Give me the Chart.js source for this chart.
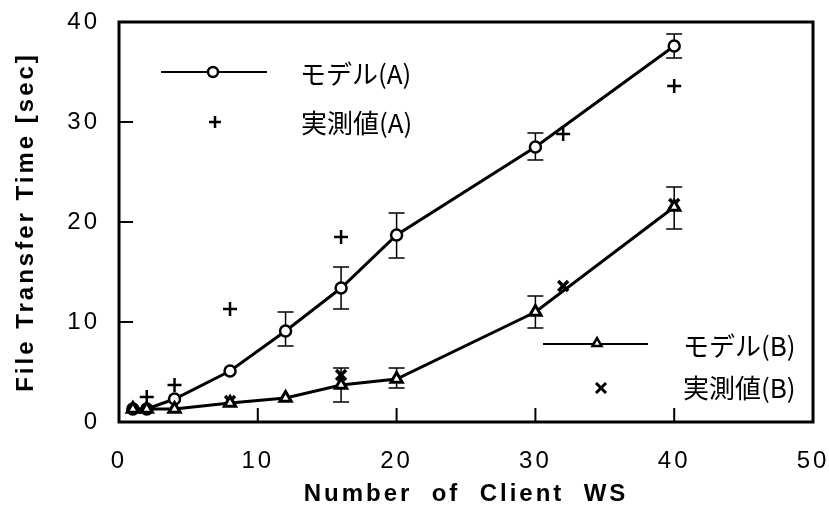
<!DOCTYPE html>
<html><head><meta charset="utf-8">
<script src="https://cdn.jsdelivr.net/npm/chart.js@4/dist/chart.umd.min.js"></script>
<style>html,body{margin:0;padding:0;background:#fff}#wrap{width:829px;height:507px;position:relative}</style>
</head><body><div id="wrap"><canvas id="c"></canvas></div>
<script>
// ---- data ----
const xModel = [1, 2, 4, 8, 12, 16, 20, 30, 40];
const modelA = [1.3, 1.3, 2.3, 5.1, 9.1, 13.4, 18.7, 27.5, 37.6];
const modelAHigh = [null, null, null, null, 11.0, 15.5, 20.9, 28.9, 38.8];
const modelALow  = [null, null, null, null, 7.6, 11.3, 16.4, 26.2, 36.4];
const modelB = [1.3, 1.3, 1.3, 1.9, 2.4, 3.7, 4.3, 11.0, 21.5];
const modelBHigh = [null, null, null, null, null, 5.4, 5.4, 12.6, 23.5];
const modelBLow  = [null, null, null, null, null, 2.0, 3.4, 9.4, 19.3];
const xMeasA = [2, 4, 8, 16, 32, 40];
const measA = [2.5, 3.7, 11.3, 18.5, 28.8, 33.6];
const xMeasB = [8, 16, 32, 40];
const measB = [2.1, 4.7, 13.6, 21.8];
const xTicks = [0, 10, 20, 30, 40, 50];
const yTicks = [0, 10, 20, 30, 40];
const labelModelA = 'モデル(A)';
const labelMeasA = '実測値(A)';
const labelModelB = 'モデル(B)';
const labelMeasB = '実測値(B)';
const xTitle = 'Number  of  Client  WS';
const yTitle = 'File Transfer Time [sec]';

const pts = (xs, ys) => xs.map((x, i) => ({x: x, y: ys[i]}));

const spacingPlugin = {
  id: 'spacing',
  beforeDraw(chart) { chart.ctx.letterSpacing = '3px'; },
  beforeDatasetsDraw(chart) { chart.ctx.letterSpacing = '0px'; }
};

const errorBarPlugin = {
  id: 'errbars',
  beforeDatasetsDraw(chart) {
    const ctx = chart.ctx, xs = chart.scales.x, ys = chart.scales.y;
    ctx.save();
    ctx.strokeStyle = '#000';
    ctx.lineWidth = 1.5;
    const draw = (xv, lo, hi) => {
      xv.forEach((x, i) => {
        if (lo[i] == null || hi[i] == null) return;
        const px = xs.getPixelForValue(x);
        const py1 = ys.getPixelForValue(lo[i]);
        const py2 = ys.getPixelForValue(hi[i]);
        ctx.beginPath();
        ctx.moveTo(px, py1); ctx.lineTo(px, py2);
        ctx.moveTo(px - 8, py1); ctx.lineTo(px + 8, py1);
        ctx.moveTo(px - 8, py2); ctx.lineTo(px + 8, py2);
        ctx.stroke();
      });
    };
    draw(xModel, modelALow, modelAHigh);
    draw(xModel, modelBLow, modelBHigh);
    ctx.restore();
  }
};

function marker(ctx, type, x, y, r) {
  ctx.save();
  ctx.beginPath();
  if (type === 'circle') {
    ctx.arc(x, y, r, 0, Math.PI * 2);
    ctx.fillStyle = '#fff'; ctx.fill(); ctx.stroke();
  } else if (type === 'triangle') {
    ctx.moveTo(x, y - r); ctx.lineTo(x + r * 0.9, y + r * 0.6); ctx.lineTo(x - r * 0.9, y + r * 0.6); ctx.closePath();
    ctx.fillStyle = '#fff'; ctx.fill(); ctx.stroke();
  } else if (type === 'plus') {
    ctx.moveTo(x - r, y); ctx.lineTo(x + r, y); ctx.moveTo(x, y - r); ctx.lineTo(x, y + r); ctx.stroke();
  } else if (type === 'x') {
    ctx.moveTo(x - r, y - r); ctx.lineTo(x + r, y + r); ctx.moveTo(x + r, y - r); ctx.lineTo(x - r, y + r); ctx.stroke();
  }
  ctx.restore();
}

const framePlugin = {
  id: 'frame',
  afterDraw(chart) {
    const ctx = chart.ctx, a = chart.chartArea, xs = chart.scales.x, ys = chart.scales.y;
    ctx.save();
    ctx.letterSpacing = '0px';
    ctx.strokeStyle = '#000';
    ctx.lineWidth = 2;
    ctx.beginPath();
    [10, 20, 30, 40].forEach(v => {
      const px = xs.getPixelForValue(v);
      ctx.moveTo(px, a.bottom); ctx.lineTo(px, a.bottom - 14);
    });
    [10, 20, 30].forEach(v => {
      const py = ys.getPixelForValue(v);
      ctx.moveTo(a.left, py); ctx.lineTo(a.left + 14, py);
    });
    ctx.stroke();
    ctx.lineWidth = 3;
    ctx.strokeRect(a.left, a.top, a.right - a.left, a.bottom - a.top);

    // legends
    const L = a.left, T = a.top;
    ctx.font = '26px "Noto Sans CJK JP"';
    ctx.fillStyle = '#000';
    ctx.textBaseline = 'middle';
    ctx.textAlign = 'left';
    // A
    ctx.lineWidth = 2;
    ctx.beginPath(); ctx.moveTo(L + 42, T + 50); ctx.lineTo(L + 148, T + 50); ctx.stroke();
    ctx.lineWidth = 2.5;
    marker(ctx, 'circle', L + 94, T + 50, 5);
    ctx.fillText(labelModelA, L + 181, T + 52);
    ctx.lineWidth = 2.5;
    marker(ctx, 'plus', L + 96, T + 100, 6);
    ctx.fillText(labelMeasA, L + 182, T + 101);
    // B
    ctx.lineWidth = 2;
    ctx.beginPath(); ctx.moveTo(L + 424, T + 322); ctx.lineTo(L + 529, T + 322); ctx.stroke();
    ctx.lineWidth = 2.5;
    marker(ctx, 'triangle', L + 478, T + 321, 5);
    ctx.fillText(labelModelB, L + 564, T + 324);
    ctx.lineWidth = 3;
    marker(ctx, 'x', L + 482, T + 366, 5);
    ctx.fillText(labelMeasB, L + 564, T + 366);
    ctx.restore();
  }
};

const tickFont = {family: '"Liberation Sans", Arial, sans-serif', size: 24};
const titleFont = {family: '"Liberation Sans", Arial, sans-serif', size: 24, weight: 'bold', lineHeight: 1};

new Chart(document.getElementById('c'), {
  type: 'scatter',
  data: {
    datasets: [
      {
        label: labelModelB, data: pts(xModel, modelB), showLine: true,
        borderColor: '#000', borderWidth: 3, pointStyle: 'triangle', pointRadius: 6.5,
        pointBackgroundColor: '#fff', pointBorderColor: '#000', pointBorderWidth: 3
      },
      {
        label: labelMeasB, data: pts(xMeasB, measB), showLine: false,
        borderColor: '#000', pointStyle: 'crossRot', pointRadius: 7,
        pointBorderColor: '#000', pointBorderWidth: 3.5
      },
      {
        label: labelModelA, data: pts(xModel, modelA), showLine: true,
        borderColor: '#000', borderWidth: 3, pointStyle: 'circle', pointRadius: 5.5,
        pointBackgroundColor: '#fff', pointBorderColor: '#000', pointBorderWidth: 2.5
      },
      {
        label: labelMeasA, data: pts(xMeasA, measA), showLine: false,
        borderColor: '#000', pointStyle: 'cross', pointRadius: 7,
        pointBorderColor: '#000', pointBorderWidth: 2.5
      }
    ]
  },
  options: {
    responsive: true, maintainAspectRatio: false, animation: false,
    layout: {padding: {top: 22, right: 16, left: 0, bottom: 0}},
    plugins: {legend: {display: false}, tooltip: {enabled: false}},
    scales: {
      x: {
        type: 'linear', min: 0, max: 50,
        afterBuildTicks: s => { s.ticks = xTicks.map(v => ({value: v})); },
        afterFit: s => { s.height = 85; s.paddingLeft = 0; s.paddingRight = 0; },
        grid: {display: false, drawTicks: false}, border: {display: false},
        ticks: {font: tickFont, color: '#000', padding: 25, maxRotation: 0},
        title: {display: true, text: xTitle, font: titleFont, color: '#000', padding: {top: 0, bottom: 1}}
      },
      y: {
        type: 'linear', min: 0, max: 40,
        afterBuildTicks: s => { s.ticks = yTicks.map(v => ({value: v})); },
        afterFit: s => { s.width = 119; s.paddingTop = 0; s.paddingBottom = 0; },
        grid: {display: false, drawTicks: false}, border: {display: false},
        ticks: {font: tickFont, color: '#000', padding: 19},
        title: {display: true, text: yTitle, font: titleFont, color: '#000', padding: {top: 14, bottom: 0}}
      }
    }
  },
  plugins: [spacingPlugin, errorBarPlugin, framePlugin]
});
</script>
</body></html>
